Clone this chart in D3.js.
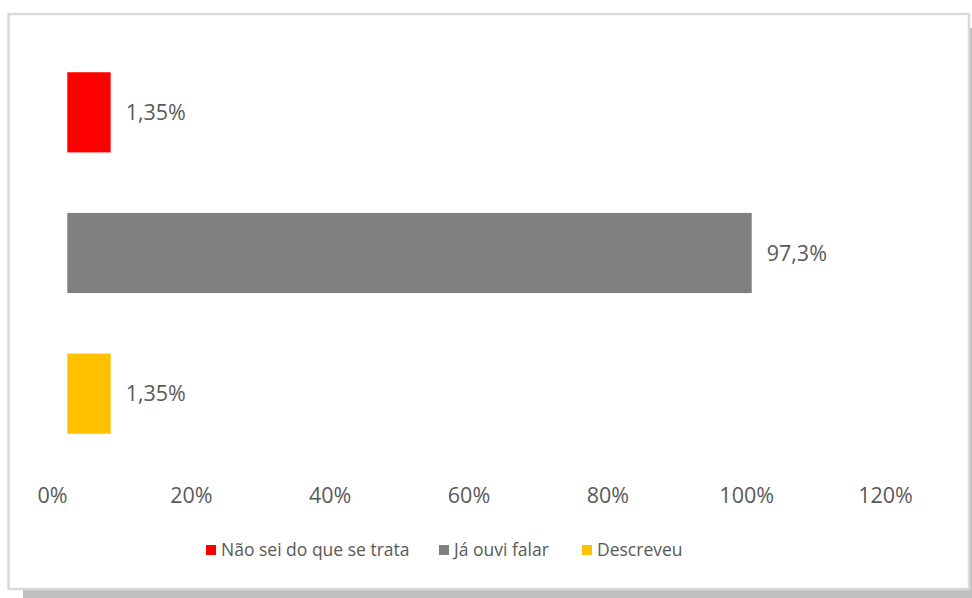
<!DOCTYPE html>
<html>
<head>
<meta charset="utf-8">
<script src="https://cdn.jsdelivr.net/npm/d3@7"></script>
<style>
	html, body { margin: 0; padding: 0; background: #fff; }
	svg { display: block; }
	text { font-family: "Open Sans", "Noto Sans", sans-serif; fill: #595959; }
</style>
</head>
<body>
<div id="chart"></div>
<script>
(function () {
	'use strict';

	// categories, top to bottom
	var categories = ["Não sei do que se trata", "Já ouvi falar", "Descreveu"];
	// values shown on the data labels
	var values = [1.35, 97.3, 1.35];
	var valueLabels = ["1,35%", "97,3%", "1,35%"];
	// bar extents as they read against the value axis (in %)
	var barFrom = [2.2, 2.2, 2.2];
	var barTo = [8.45, 100.8, 8.45];
	var colors = ["#ff0000", "#808080", "#ffc000"];
	// axis ticks
	var ticks = [0, 20, 40, 60, 80, 100, 120];
	var tickLabels = ["0%", "20%", "40%", "60%", "80%", "100%", "120%"];

	var width = 972, height = 598;

	var svg = d3.select("#chart")
		.append("svg")
		.attr("width", width)
		.attr("height", height);

	// drop shadow + frame
	svg.append("rect")
		.attr("x", 23).attr("y", 28)
		.attr("width", width).attr("height", height)
		.attr("fill", "#bfbfbf");
	svg.append("rect")
		.attr("x", 8.5).attr("y", 14)
		.attr("width", 960.5).attr("height", 575)
		.attr("fill", "#fff")
		.attr("stroke", "#d9d9d9")
		.attr("stroke-width", 2.5);

	var x = d3.scaleLinear().domain([0, 120]).range([52, 885]);
	var y = d3.scaleBand()
		.domain(categories)
		.range([42, 464])
		.paddingInner(0.43)
		.paddingOuter(0.215);

	var data = categories.map(function (c, i) {
		return { cat: c, value: values[i], label: valueLabels[i], from: barFrom[i], to: barTo[i], color: colors[i] };
	});

	svg.selectAll("rect.bar")
		.data(data)
		.enter()
		.append("rect")
		.attr("class", "bar")
		.attr("x", function (d) { return x(d.from); })
		.attr("width", function (d) { return x(d.to) - x(d.from); })
		.attr("y", function (d) { return y(d.cat); })
		.attr("height", y.bandwidth())
		.attr("fill", function (d) { return d.color; });

	svg.selectAll("text.val")
		.data(data)
		.enter()
		.append("text")
		.attr("class", "val")
		.attr("x", function (d) { return x(d.to) + 15; })
		.attr("y", function (d) { return y(d.cat) + y.bandwidth() / 2; })
		.attr("dy", "0.35em")
		.attr("font-size", 21.5)
		.text(function (d) { return d.label; });

	// value axis labels (no line, no ticks)
	var axis = d3.axisBottom(x)
		.tickValues(ticks)
		.tickFormat(function (d, i) { return tickLabels[i]; })
		.tickSize(0)
		.tickPadding(0);
	var gAxis = svg.append("g")
		.attr("transform", "translate(0,488)")
		.call(axis);
	gAxis.select(".domain").remove();
	gAxis.selectAll("text")
		.attr("font-size", 21.5)
		.attr("font-family", "\"Open Sans\", \"Noto Sans\", sans-serif")
		.attr("fill", "#595959");

	// legend
	var legendX = [206, 439, 582];
	var legend = svg.selectAll("g.legend")
		.data(data)
		.enter()
		.append("g")
		.attr("class", "legend")
		.attr("transform", function (d, i) { return "translate(" + legendX[i] + ",550)"; });
	legend.append("rect")
		.attr("x", 0).attr("y", -5)
		.attr("width", 10).attr("height", 10)
		.attr("fill", function (d) { return d.color; });
	legend.append("text")
		.attr("x", 15)
		.attr("dy", "0.35em")
		.attr("font-size", 17.5)
		.text(function (d) { return d.cat; });
}());
</script>
</body>
</html>
